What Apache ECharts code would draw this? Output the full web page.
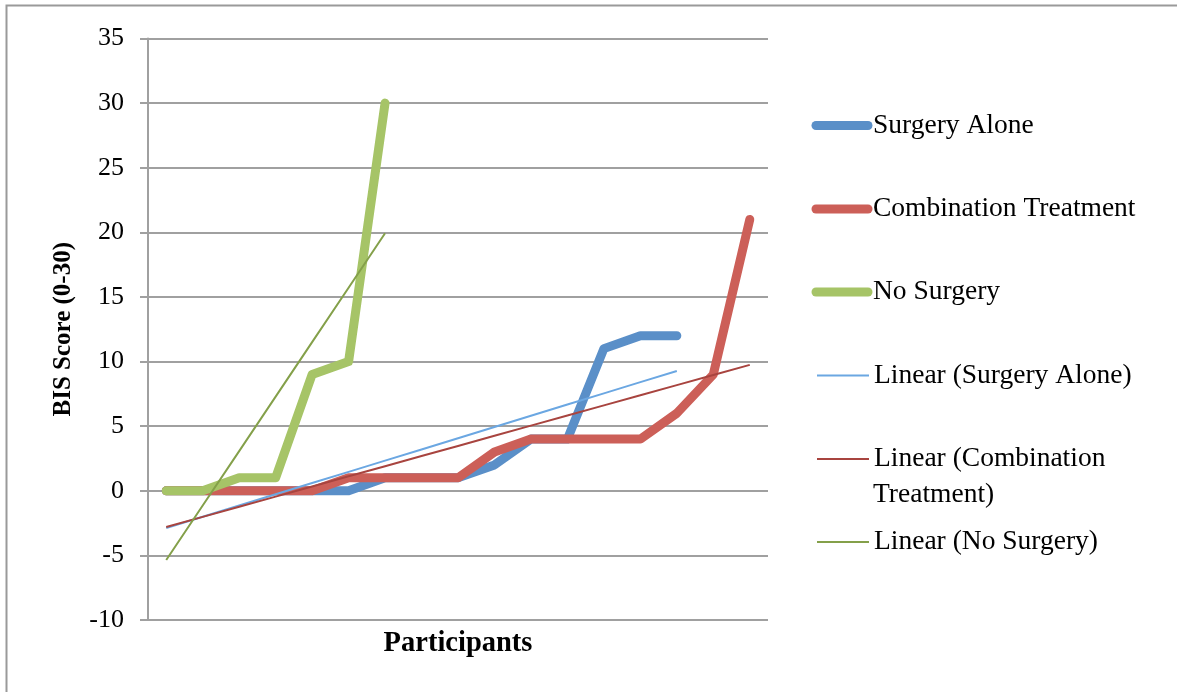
<!DOCTYPE html>
<html>
<head>
<meta charset="utf-8">
<script src="https://cdn.jsdelivr.net/npm/echarts@6/dist/echarts.min.js"></script>
<style>
html,body{margin:0;padding:0;background:#fff;}
#chart{width:1177px;height:692px;}
</style>
</head>
<body>
<div id="chart"></div>
<script>
// ---- data ----
const participants = ['1','2','3','4','5','6','7','8','9','10','11','12','13','14','15','16','17'];
const surgeryAlone = [0,0,0,0,0,0,1,1,1,2,4,4,11,12,12];
const combinationTreatment = [0,0,0,0,0,1,1,1,1,3,4,4,4,4,6,9,21];
const noSurgery = [0,0,1,1,9,10,30];
const yTicks = { min: -10, max: 35, interval: 5 };
const seriesNames = ['Surgery Alone','Combination Treatment','No Surgery',
  'Linear (Surgery Alone)','Linear (Combination Treatment)','Linear (No Surgery)'];

// least squares linear trend (as Excel's linear trendline)
function linearTrend(vals){
  const n = vals.length;
  let sx=0, sy=0, sxy=0, sxx=0;
  for(let i=0;i<n;i++){const x=i+1; sx+=x; sy+=vals[i]; sxy+=x*vals[i]; sxx+=x*x;}
  const b = (n*sxy - sx*sy)/(n*sxx - sx*sx);
  const a = (sy - b*sx)/n;
  return vals.map((_,i)=>+(a + b*(i+1)).toFixed(4));
}

const FONT = 'Liberation Serif';
const chart = echarts.init(document.getElementById('chart'), null, {renderer:'canvas'});

const thick = (color)=>({width:9, color:color, cap:'round', join:'round'});
const thin = (color)=>({width:2, color:color});

const legendCenters = [125.5, 209, 292, 375.5, 459, 542];
const legends = seriesNames.map((nm,i)=>({
  data:[nm],
  left: i < 3 ? 811.5 : 816,
  top: legendCenters[i] - 18,
  orient:'vertical',
  padding:0,
  itemWidth:52,
  itemHeight:10,
  lineStyle:{width:'inherit', cap:'inherit', join:'inherit'},
  itemStyle:{color:'rgba(0,0,0,0)', borderWidth:0, opacity:0},
  formatter: nm === 'Linear (Combination Treatment)' ? 'Linear (Combination' : '{name}',
  textStyle:{fontFamily:FONT, fontSize:27.5, color:'#000', lineHeight:28, padding:[8,0,0,0]}
}));

const option = {
  backgroundColor:'#fff',
  animation:false,
  grid:{left:148, right:409, top:38.5, bottom:72, containLabel:false},
  legend: legends,
  xAxis:{
    type:'category',
    data: participants,
    boundaryGap:true,
    name:'Participants',
    nameLocation:'middle',
    nameGap:9,
    nameTextStyle:{fontFamily:FONT, fontSize:28.5, fontWeight:'bold', color:'#000', verticalAlign:'top'},
    axisLine:{show:false},
    axisTick:{show:false},
    axisLabel:{show:false},
    splitLine:{show:false}
  },
  yAxis:{
    type:'value',
    min: yTicks.min, max: yTicks.max, interval: yTicks.interval,
    name:'BIS Score (0-30)',
    nameLocation:'middle',
    nameGap:72,
    nameRotate:90,
    nameTextStyle:{fontFamily:FONT, fontSize:25, fontWeight:'bold', color:'#000'},
    axisLine:{show:true, lineStyle:{color:'#a0a0a0', width:2}},
    axisTick:{show:true, length:8, lineStyle:{color:'#a0a0a0', width:2}},
    axisLabel:{fontFamily:FONT, fontSize:26, color:'#000', margin:24, padding:[6,0,0,0]},
    splitLine:{show:true, lineStyle:{color:'#a0a0a0', width:2}}
  },
  series:[
    {name:seriesNames[0], type:'line', data:surgeryAlone, symbol:'none', color:'#5a8fc8', lineStyle:thick('#5a8fc8')},
    {name:seriesNames[1], type:'line', data:combinationTreatment, symbol:'none', color:'#cc5f58', lineStyle:thick('#cc5f58')},
    {name:seriesNames[2], type:'line', data:noSurgery, symbol:'none', color:'#a6c467', lineStyle:thick('#a6c467')},
    {name:seriesNames[3], type:'line', data:linearTrend(surgeryAlone), symbol:'none', color:'#6ba7e2', lineStyle:thin('#6ba7e2')},
    {name:seriesNames[4], type:'line', data:linearTrend(combinationTreatment), symbol:'none', color:'#a8443f', lineStyle:thin('#a8443f')},
    {name:seriesNames[5], type:'line', data:linearTrend(noSurgery), symbol:'none', color:'#84a04a', lineStyle:thin('#84a04a')}
  ],
  graphic:[
    {type:'rect', left:4, top:3, z:-10, silent:true,
     shape:{x:0,y:0,width:1200,height:720}, style:{fill:'none', stroke:'#9a9a9a', lineWidth:2}},
    {type:'text', left:873, top:493 - 12,
     style:{text:'Treatment)', font:'27.5px "Liberation Serif"', fill:'#000', lineHeight:28}}
  ]
};
chart.setOption(option);
</script>
</body>
</html>
